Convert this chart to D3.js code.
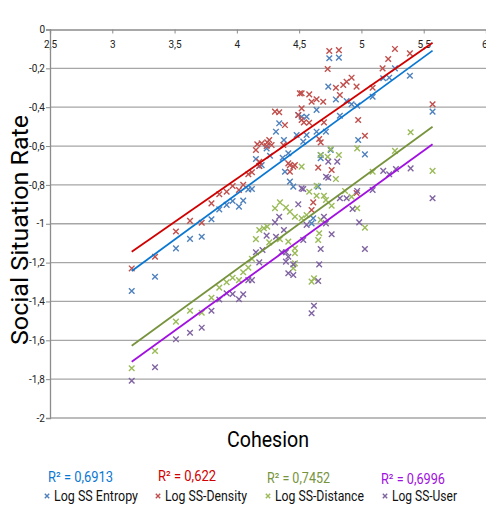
<!DOCTYPE html>
<html>
<head>
<meta charset="utf-8">
<script src="https://cdn.jsdelivr.net/npm/d3@7"></script>
<style>
	body { margin: 0; background: #fff; }
	text { font-family: Roboto, "Liberation Sans", sans-serif; }
</style>
</head>
<body>
<script>
// Series names, colours and R² labels
var seriesNames = ['Log SS Entropy', 'Log SS-Density', 'Log SS-Distance', 'Log SS-User'];
var markerColors = ['#4f81bd', '#c0504d', '#9bbb59', '#8064a2'];
var trendColors = ['#0a78d2', '#d00000', '#77933c', '#a010e0'];
var r2Labels = ['R\u00b2 = 0,6913', 'R\u00b2 = 0,622', 'R\u00b2 = 0,7452', 'R\u00b2 = 0,6996'];

// Linear trend lines (slope, intercept)
var trendSlope = [0.4696, 0.4455, 0.467, 0.4634];
var trendIntercept = [-2.725, -2.550, -3.102, -3.1725];

var xTicks = [2.5, 3, 3.5, 4, 4.5, 5, 5.5, 6];
var yTicks = [0, -0.2, -0.4, -0.6, -0.8, -1, -1.2, -1.4, -1.6, -1.8, -2];

// [cohesion, social situation rate]
var entropy = [
	[3.156,-1.346],[3.343,-1.273],[3.511,-1.127],[3.624,-1.078],[3.718,-1.067],[3.796,-0.977],
	[3.859,-0.926],[3.918,-0.903],[3.966,-0.883],[4.017,-0.912],[4.051,-0.881],[4.092,-0.823],
	[4.121,-0.821],[4.18,-0.703],[4.153,-0.667],[4.199,-0.698],[4.239,-0.612],[4.266,-0.65],
	[4.314,-0.526],[4.34,-0.483],[4.368,-0.66],[4.378,-0.569],[4.413,-0.637],[4.48,-0.543],
	[4.493,-0.44],[4.56,-0.543],[4.52,-0.449],[4.56,-0.449],[4.64,-0.414],[4.64,-0.526],
	[4.715,-0.526],[4.533,-0.577],[4.673,-0.646],[4.734,-0.294],[4.795,-0.36],[4.827,-0.444],
	[4.881,-0.368],[4.921,-0.385],[4.966,-0.392],[4.974,-0.569],[5.028,-0.643],[5.09,-0.346],
	[5.175,-0.251],[5.223,-0.248],[5.269,-0.2],[5.389,-0.238],[5.571,-0.423],[4.742,-0.148],
	[4.819,-0.145],[4.653,-0.809],[4.613,-0.972],[4.6,-0.998],[4.386,-0.732],[4.426,-0.783],
	[4.453,-0.809],[4.753,-0.62],[4.673,-0.663]
];
var density = [
	[3.156,-1.23],[3.343,-1.17],[3.511,-1.04],[3.624,-0.985],[3.718,-0.995],[3.796,-0.895],
	[3.859,-0.848],[3.918,-0.835],[3.966,-0.806],[4.017,-0.826],[4.051,-0.8],[4.092,-0.745],
	[4.121,-0.735],[4.18,-0.703],[4.153,-0.62],[4.164,-0.591],[4.199,-0.586],[4.244,-0.581],
	[4.26,-0.569],[4.279,-0.595],[4.18,-0.681],[4.306,-0.423],[4.34,-0.426],[4.386,-0.492],
	[4.426,-0.698],[4.466,-0.698],[4.493,-0.44],[4.506,-0.329],[4.52,-0.328],[4.52,-0.406],
	[4.58,-0.48],[4.6,-0.372],[4.6,-0.929],[4.613,-0.89],[4.581,-0.334],[4.64,-0.359],
	[4.693,-0.372],[4.52,-0.466],[4.538,-0.478],[4.699,-0.478],[4.661,-0.564],[4.673,-0.581],
	[4.653,-0.711],[4.761,-0.723],[4.729,-0.203],[4.742,-0.111],[4.819,-0.106],[4.795,-0.3],
	[4.827,-0.337],[4.854,-0.286],[4.881,-0.269],[4.921,-0.248],[4.961,-0.294],[4.974,-0.466],
	[5.028,-0.547],[5.09,-0.3],[5.17,-0.2],[5.215,-0.152],[5.269,-0.1],[5.389,-0.123],
	[5.571,-0.385],[4.961,-0.842],[4.373,-0.595],[4.413,-0.689],[4.453,-0.706],[4.426,-0.732],
	[4.239,-0.6]
];
var distance = [
	[3.156,-1.744],[3.343,-1.655],[3.511,-1.504],[3.624,-1.448],[3.718,-1.458],[3.796,-1.381],
	[3.859,-1.329],[3.918,-1.301],[3.966,-1.278],[4.017,-1.29],[4.051,-1.25],[4.092,-1.226],
	[4.121,-1.181],[4.153,-1.079],[4.18,-1.032],[4.217,-1.023],[4.244,-1.015],[4.26,-1.096],
	[4.306,-0.92],[4.346,-0.89],[4.346,-1.079],[4.394,-0.917],[4.413,-1.092],[4.426,-0.938],
	[4.466,-0.964],[4.466,-1.152],[4.466,-1.204],[4.453,-1.229],[4.52,-0.706],[4.52,-0.972],
	[4.56,-0.955],[4.581,-0.835],[4.64,-0.804],[4.64,-0.856],[4.661,-1.049],[4.653,-1.084],
	[4.699,-0.856],[4.715,-0.878],[4.753,-0.615],[4.761,-0.907],[4.795,-0.77],[4.819,-0.646],
	[4.868,-0.831],[4.921,-0.861],[4.966,-0.612],[4.966,-0.92],[5.028,-1.02],[5.09,-0.732],
	[5.269,-0.625],[5.395,-0.529],[5.571,-0.728],[4.619,-1.281],[4.6,-1.298],[4.673,-0.646],
	[4.729,-0.655],[4.673,-0.98],[4.466,-1.126]
];
var user = [
	[3.156,-1.808],[3.343,-1.739],[3.511,-1.595],[3.624,-1.561],[3.718,-1.535],[3.796,-1.448],
	[3.859,-1.39],[3.918,-1.358],[3.966,-1.362],[4.017,-1.389],[4.051,-1.363],[4.092,-1.29],
	[4.121,-1.29],[4.153,-1.147],[4.18,-1.199],[4.206,-1.135],[4.239,-1.061],[4.314,-1.067],
	[4.306,-0.993],[4.34,-0.964],[4.378,-1.032],[4.493,-0.9],[4.533,-0.821],[4.36,-1.147],
	[4.394,-1.147],[4.413,-1.17],[4.394,-1.195],[4.453,-1.209],[4.413,-1.255],[4.453,-1.264],
	[4.52,-0.818],[4.56,-1.006],[4.533,-1.084],[4.699,-0.964],[4.715,-0.998],[4.761,-1.054],
	[4.673,-1.13],[4.661,-1.209],[4.653,-1.295],[4.619,-1.422],[4.6,-1.461],[4.734,-0.763],
	[4.827,-0.869],[4.881,-0.869],[4.929,-0.924],[4.966,-0.831],[4.982,-0.993],[5.028,-1.13],
	[5.09,-0.826],[5.175,-0.728],[5.223,-0.745],[5.277,-0.718],[5.395,-0.715],[5.571,-0.869],
	[4.734,-0.68],[4.806,-0.68],[4.716,-0.758]
];

var allSeries = [entropy, density, distance, user];

function generateChart() {
	var width = 486,
		height = 507;

	var svg = d3.select("body")
				.append("svg")
				.attr("width", width)
				.attr("height", height);

	var x = d3.scaleLinear().domain([2.5, 6]).range([50, 486]);
	var y = d3.scaleLinear().domain([-2, 0]).range([418, 29.5]);

	// horizontal gridlines
	svg.append("g")
		.selectAll("line")
		.data(yTicks.slice(1))
		.enter()
		.append("line")
		.attr("x1", x(2.5))
		.attr("x2", x(6))
		.attr("y1", function(d) { return y(d); })
		.attr("y2", function(d) { return y(d); })
		.attr("stroke", "#a6a6a6")
		.attr("stroke-width", 1.3);

	// top x axis sitting on y = 0
	var xAxis = d3.axisBottom(x)
				.tickValues(xTicks)
				.tickSize(4)
				.tickFormat(function(d) { return String(d).replace('.', ','); });
	var gx = svg.append("g")
		.attr("transform", "translate(0," + y(0) + ")")
		.call(xAxis);
	gx.select(".domain").attr("stroke", "#8c8c8c").attr("stroke-width", 1.3);
	gx.selectAll(".tick line").attr("stroke", "#8c8c8c");
	gx.selectAll(".tick text")
		.attr("y", 11)
		.attr("font-size", 10)
		.attr("fill", "#222")
		.attr("text-anchor", function(d) { return d === 6 ? "end" : "middle"; })
		.attr("dx", function(d) { return d === 6 ? 1 : 0; });

	// left y axis
	var yAxis = d3.axisLeft(y)
				.tickValues(yTicks)
				.tickSize(4)
				.tickFormat(function(d) { return String(d).replace('.', ','); });
	var gy = svg.append("g")
		.attr("transform", "translate(" + x(2.5) + ",0)")
		.call(yAxis);
	gy.select(".domain").attr("stroke", "#8c8c8c").attr("stroke-width", 1.3);
	gy.selectAll(".tick line").attr("stroke", "#8c8c8c");
	gy.selectAll(".tick text")
		.attr("x", -5)
		.attr("font-size", 10)
		.attr("fill", "#222");

	// x marker path
	var cross = function(s) {
		return "M" + (-s) + "," + (-s) + "L" + s + "," + s + "M" + (-s) + "," + s + "L" + s + "," + (-s);
	};

	allSeries.forEach(function(pts, i) {
		svg.append("g")
			.selectAll("path")
			.data(pts)
			.enter()
			.append("path")
			.attr("d", cross(2.8))
			.attr("transform", function(d) { return "translate(" + x(d[0]) + "," + y(d[1]) + ")"; })
			.attr("stroke", markerColors[i])
			.attr("stroke-width", 1.4)
			.attr("fill", "none");
	});

	// trend lines over the extent of each series
	allSeries.forEach(function(pts, i) {
		var ext = d3.extent(pts, function(d) { return d[0]; });
		var line = d3.line()
			.x(function(d) { return x(d); })
			.y(function(d) { return y(trendSlope[i] * d + trendIntercept[i]); });
		svg.append("path")
			.attr("d", line(ext))
			.attr("stroke", trendColors[i])
			.attr("stroke-width", 1.8)
			.attr("fill", "none");
	});

	// axis titles
	svg.append("text")
		.attr("transform", "translate(28,230) rotate(-90)")
		.attr("text-anchor", "middle")
		.attr("font-size", 23)
		.attr("textLength", 230)
		.attr("lengthAdjust", "spacingAndGlyphs")
		.text("Social Situation Rate");

	svg.append("text")
		.attr("x", 268)
		.attr("y", 447)
		.attr("text-anchor", "middle")
		.attr("font-size", 22)
		.attr("textLength", 82)
		.attr("lengthAdjust", "spacingAndGlyphs")
		.text("Cohesion");

	// legend
	var legendX = [44, 155, 265, 382];
	var nameWidth = [84, 82, 89, 65];
	var r2X = [48, 158, 267, 381];
	var r2Y = [482, 481, 483, 484];
	var r2Width = [65, 58, 63, 64];

	r2Labels.forEach(function(lbl, i) {
		svg.append("text")
			.attr("x", r2X[i])
			.attr("y", r2Y[i])
			.attr("font-size", 14)
			.attr("textLength", r2Width[i])
			.attr("lengthAdjust", "spacingAndGlyphs")
			.attr("fill", trendColors[i])
			.text(lbl);
	});

	seriesNames.forEach(function(name, i) {
		svg.append("path")
			.attr("d", cross(2.2))
			.attr("transform", "translate(" + (legendX[i] + 3) + ",496)")
			.attr("stroke", markerColors[i])
			.attr("stroke-width", 1.4)
			.attr("fill", "none");
		svg.append("text")
			.attr("x", legendX[i] + 10)
			.attr("y", 501)
			.attr("font-size", 14)
			.attr("textLength", nameWidth[i])
			.attr("lengthAdjust", "spacingAndGlyphs")
			.attr("fill", "#111")
			.text(name);
	});
} // generateChart()

generateChart();
</script>
</body>
</html>
